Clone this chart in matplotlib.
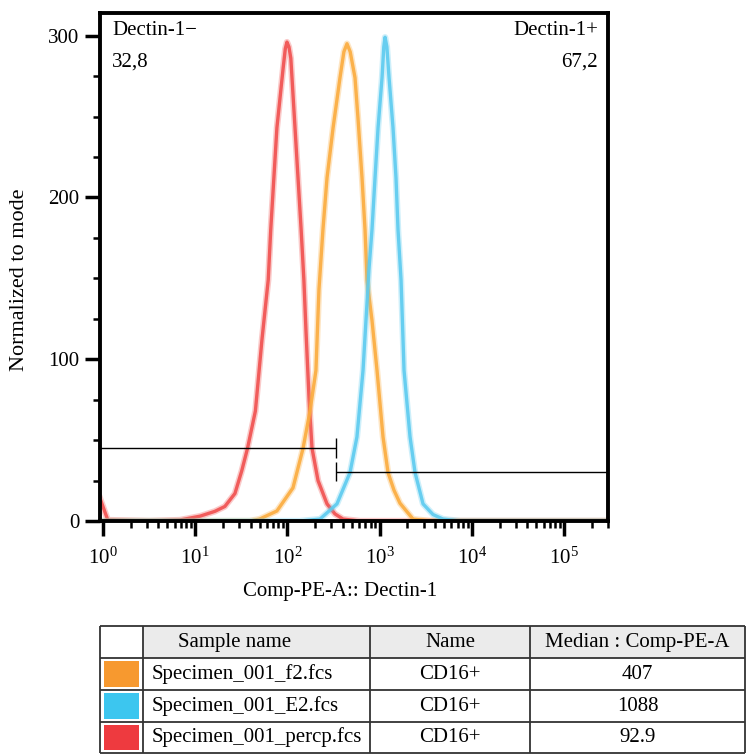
import matplotlib
matplotlib.use("Agg")
import matplotlib.pyplot as plt
from matplotlib.patches import Rectangle
from matplotlib.ticker import LogLocator, MultipleLocator, NullFormatter, FixedLocator

plt.rcParams['font.family'] = ['Liberation Serif', 'DejaVu Serif']
plt.rcParams['mathtext.fontset'] = 'custom'
plt.rcParams['mathtext.rm'] = 'Liberation Serif'
plt.rcParams['mathtext.it'] = 'Liberation Serif:italic'

# histogram traces (Comp-PE-A value, normalized count)
red_x = [0.93, 1.13, 3.2, 6.8, 11.3, 16.4, 21, 27, 32, 37, 45, 53, 62, 66, 77, 90, 95, 99,
         104, 109, 121, 141, 151, 159, 172, 185, 215, 269, 328, 401, 613, 3.0e5]
red_y = [14, 0.6, 0, 0.6, 3, 6, 9, 17, 31, 45, 68, 112, 149, 180, 243, 280, 292, 296,
         293, 286, 243, 180, 149, 118, 75, 45, 25, 10.6, 4.4, 1.2, 0, 0]

orange_x = [0.93, 39, 50, 77, 115, 148, 176, 204, 220, 243, 269, 313, 372, 410, 443, 480, 541,
            583, 645, 695, 730, 827, 938, 1089, 1234, 1433, 1663, 2303, 3520, 3.0e5]
orange_y = [0, 0, 1.2, 6.2, 20.5, 45, 68, 93, 143, 180, 212, 243, 274, 290, 295, 290, 274,
            249, 212, 180, 149, 124, 93, 52, 30, 19, 11, 1.2, 0, 0]

blue_x = [0.93, 137, 226, 345, 478, 568, 661, 768, 827, 892, 962, 1063, 1110, 1146, 1200, 1266,
          1398, 1506, 1584, 1708, 1841, 2138, 2422, 2957, 3793, 4872, 7450, 3.0e5]
blue_y = [0, 0, 1.2, 10.6, 30, 52, 93, 156, 180, 212, 243, 274, 293, 299, 293, 274,
          243, 212, 180, 149, 93, 52, 30, 10.6, 4, 1.2, 0, 0]

# gates
gate_split = 333
gate_neg_y = 45
gate_pos_y = 30.5
gate_labels = ['Dectin-1\u2212', 'Dectin-1+']
gate_pcts = ['32,8', '67,2']

# table
sample_names = ['Specimen_001_f2.fcs', 'Specimen_001_E2.fcs', 'Specimen_001_percp.fcs']
pop_names = ['CD16+', 'CD16+', 'CD16+']
medians = ['407', '1088', '92.9']
swatch_colors = ['#f7992f', '#3cc6ef', '#ee3a3f']
curve_colors = ['#fbac3e', '#5ccbef', '#f0504f']
headers = ['Sample name', 'Name', 'Median : Comp-PE-A']

fig = plt.figure(figsize=(7.56, 7.54), dpi=100)
ax = fig.add_axes([0.1323, 0.309, 0.672, 0.6738])

for xs, ys, c in [(red_x, red_y, curve_colors[2]),
                  (orange_x, orange_y, curve_colors[0]),
                  (blue_x, blue_y, curve_colors[1])]:
    ax.plot(xs, ys, color=c, lw=4.6, alpha=0.3, solid_joinstyle='round')
    ax.plot(xs, ys, color=c, lw=2.4, alpha=0.9, solid_joinstyle='round')

ax.set_xscale('log')
ax.set_xlim(0.93, 3.0e5)
ax.set_ylim(0, 314)

# gate markers
xmin = ax.get_xlim()[0]
xmax = ax.get_xlim()[1]
ax.hlines(gate_neg_y, xmin, gate_split, color='black', lw=1)
ax.vlines(gate_split, gate_neg_y - 6, gate_neg_y + 6, color='black', lw=1)
ax.hlines(gate_pos_y, gate_split, xmax, color='black', lw=1)
ax.vlines(gate_split, gate_pos_y - 6, gate_pos_y + 6, color='black', lw=1)

ax.text(0.024, 0.966, gate_labels[0], transform=ax.transAxes, fontsize=15, va='center', ha='left')
ax.text(0.024, 0.903, gate_pcts[0], transform=ax.transAxes, fontsize=15, va='center', ha='left')
ax.text(0.98, 0.966, gate_labels[1], transform=ax.transAxes, fontsize=15, va='center', ha='right')
ax.text(0.98, 0.903, gate_pcts[1], transform=ax.transAxes, fontsize=15, va='center', ha='right')

for s in ax.spines.values():
    s.set_linewidth(2.8)

ax.yaxis.set_major_locator(FixedLocator([0, 100, 200, 300]))
ax.yaxis.set_minor_locator(MultipleLocator(25))
ax.xaxis.set_major_locator(LogLocator(base=10, numticks=10))
ax.xaxis.set_minor_locator(LogLocator(base=10, subs=range(2, 10), numticks=20))
ax.xaxis.set_minor_formatter(NullFormatter())
ax.tick_params(axis='both', which='major', length=11, width=2.5, labelsize=15, pad=4)
ax.tick_params(axis='both', which='minor', length=5, width=1.8)
ax.tick_params(axis='x', which='major', pad=8)

ax.set_xlabel('Comp-PE-A:: Dectin-1', fontsize=15, va='center')
ax.xaxis.set_label_coords(0.472, -0.138)
ax.set_ylabel('Normalized to mode', fontsize=16, va='center')
ax.yaxis.set_label_coords(-0.159, 0.474)

# table below the plot
tax = fig.add_axes([0.1323, 0.0013, 0.8532, 0.1684])
tax.set_xlim(0, 645)
tax.set_ylim(127, 0)
tax.axis('off')
col_edges = [0, 43, 270, 430, 645]
row_edges = [0, 32, 64, 96, 127]

tax.add_patch(Rectangle((col_edges[1], 0), col_edges[4] - col_edges[1], row_edges[1],
                        facecolor='#ebebeb', edgecolor='none'))
for xe in col_edges:
    tax.plot([xe, xe], [0, 127], color='#333333', lw=1.3, solid_capstyle='butt', clip_on=False)
for ye in row_edges:
    tax.plot([0, 645], [ye, ye], color='#333333', lw=1.3, solid_capstyle='butt', clip_on=False)

tax.text(78, 16, headers[0], fontsize=15, va='center', ha='left')
tax.text((col_edges[2] + col_edges[3]) / 2, 16, headers[1], fontsize=15, va='center', ha='center')
tax.text((col_edges[3] + col_edges[4]) / 2, 16, headers[2], fontsize=15, va='center', ha='center')

for i in range(len(sample_names)):
    top = row_edges[i + 1]
    mid = (row_edges[i + 1] + row_edges[i + 2]) / 2
    tax.add_patch(Rectangle((4, top + 3), 35, row_edges[i + 2] - top - 6,
                            facecolor=swatch_colors[i], edgecolor='none'))
    tax.text(52, mid, sample_names[i], fontsize=15, va='center', ha='left')
    tax.text((col_edges[2] + col_edges[3]) / 2, mid, pop_names[i], fontsize=15, va='center', ha='center')
    tax.text((col_edges[3] + col_edges[4]) / 2, mid, medians[i], fontsize=15, va='center', ha='center')

fig.savefig('out.png', dpi=100)
